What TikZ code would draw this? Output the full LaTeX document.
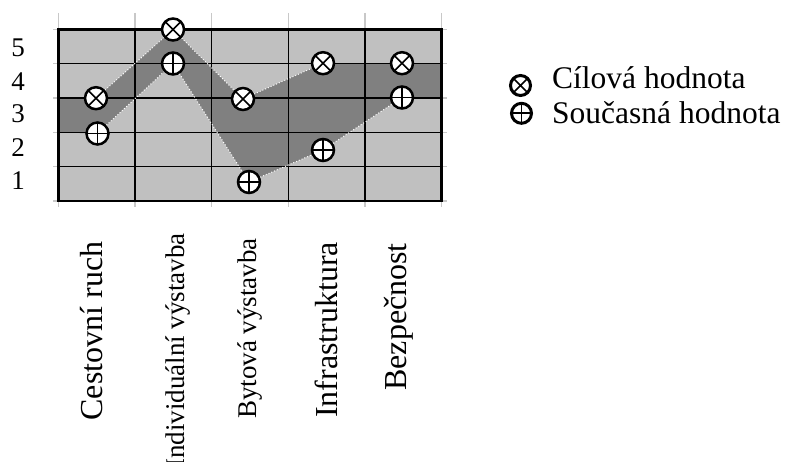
\documentclass[tikz,border=0pt]{standalone}
\usepackage{fontspec}
\setmainfont{Liberation Serif}
\definecolor{lightg}{RGB}{192,192,192}
\definecolor{darkg}{RGB}{128,128,128}
\definecolor{tickg}{RGB}{200,200,200}
\newcommand\lblbig{\fontsize{32}{36}\selectfont}
\newcommand\lblmid{\fontsize{27}{30}\selectfont}
\newcommand\lblnum{\fontsize{27}{30}\selectfont}
\newcommand\lblleg{\fontsize{31.5}{36}\selectfont}
\begin{document}
\begin{tikzpicture}[x=1pt,y=-1pt,
  gridline/.style={black,line width=1.3pt},
  border/.style={black,line width=2.8pt},
  tickline/.style={tickg,line width=1.4pt},
  dotw/.style={white,dotted,line width=1pt},
  tgt/.style={circle,draw=black,line width=2.5pt,fill=white,minimum size=22pt,inner sep=0pt,
    path picture={\draw[black,line width=1.6pt] (path picture bounding box.north east) -- (path picture bounding box.south west)
      (path picture bounding box.north west) -- (path picture bounding box.south east);}},
  cur/.style={circle,draw=black,line width=2.5pt,fill=white,minimum size=22pt,inner sep=0pt,
    path picture={\draw[black,line width=1.6pt] (path picture bounding box.north) -- (path picture bounding box.south)
      (path picture bounding box.west) -- (path picture bounding box.east);}},
  numlbl/.style={inner sep=0pt,font=\lblnum},
  catbig/.style={rotate=90,anchor=base east,inner sep=0pt,font=\lblbig},
  catmid/.style={rotate=90,anchor=base east,inner sep=0pt,font=\lblmid},
  leglbl/.style={anchor=base west,inner sep=0pt,font=\lblleg}]
\useasboundingbox (0,0) rectangle (786,462);
% data positions
\coordinate (pt1) at (96,98.2);
\coordinate (pt2) at (173,29.5);
\coordinate (pt3) at (243,99);
\coordinate (pt4) at (323,63.2);
\coordinate (pt5) at (402,63.2);
\coordinate (pc1) at (97.5,133.5);
\coordinate (pc2) at (173,63.5);
\coordinate (pc3) at (249,182);
\coordinate (pc4) at (323,150);
\coordinate (pc5) at (402,97.5);
\coordinate (el1) at (58.3,98.2);
\coordinate (el2) at (58.3,132.4);
\coordinate (er1) at (441.7,63.6);
\coordinate (er2) at (441.7,98);
% ticks
\foreach \xx in {58.3,135,211.7,288.3,365,441.7}{
  \draw[tickline] (\xx,13) -- (\xx,29.3);
  \draw[tickline] (\xx,201) -- (\xx,207.5);}
\foreach \yy in {29.3,63.6,98,132.4,166.7,201}{
  \draw[tickline] (53,\yy) -- (58.3,\yy);
  \draw[tickline] (441.7,\yy) -- (447,\yy);}
% background
\fill[lightg] (58.3,29.3) rectangle (441.7,201);
% band
\fill[darkg] (el1) -- (pt1) -- (pt2) -- (pt3) -- (pt4) -- (pt5) -- (er1) -- (er2) -- (pc5) -- (pc4) -- (pc3) -- (pc2) -- (pc1) -- (el2) -- cycle;
% grid
\foreach \xx in {135,211.7,288.3,365}{\draw[gridline] (\xx,29.3) -- (\xx,201);}
\foreach \yy in {63.6,98,132.4,166.7}{\draw[gridline] (58.3,\yy) -- (441.7,\yy);}
\draw[border] (58.3,29.3) rectangle (441.7,201);
% markers
\node[tgt] (t1) at (pt1) {};
\node[tgt] (t2) at (pt2) {};
\node[tgt] (t3) at (pt3) {};
\node[tgt] (t4) at (pt4) {};
\node[tgt] (t5) at (pt5) {};
\node[cur] (c1) at (pc1) {};
\node[cur] (c2) at (pc2) {};
\node[cur] (c3) at (pc3) {};
\node[cur] (c4) at (pc4) {};
\node[cur] (c5) at (pc5) {};
\draw[dotw] (t1) -- (t2);
\draw[dotw] (t2) -- (t3);
\draw[dotw] (t3) -- (t4);
\draw[dotw] (c1) -- (c2);
\draw[dotw] (c2) -- (c3);
\draw[dotw] (c3) -- (c4);
\draw[dotw] (c4) -- (c5);
% y labels
\node[numlbl] (n5) at (18,47.5) {5};
\node[numlbl] (n4) at (18,81.5) {4};
\node[numlbl] (n3) at (18,114) {3};
\node[numlbl] (n2) at (18,147.5) {2};
\node[numlbl] (n1) at (18,181) {1};
% category labels
\node[catbig] (k1) at (102,241.5) {Cestovní ruch};
\node[catmid] (k2) at (184,233) {Individuální výstavba};
\node[catmid] (k3) at (256.5,238) {Bytová výstavba};
\node[catbig] (k4) at (337,241.7) {Infrastruktura};
\node[catbig] (k5) at (406,243) {Bezpečnost};
% legend
\node[tgt,line width=3pt,minimum size=20pt,fill=none] (lt) at (520.5,85.5) {};
\node[cur,line width=3pt,minimum size=20pt,fill=none] (lc) at (521.5,113.3) {};
\node[leglbl] (ltx) at (552,89) {Cílová hodnota};
\node[leglbl] (lcx) at (552,123.5) {Současná hodnota};
\end{tikzpicture}
\end{document}
